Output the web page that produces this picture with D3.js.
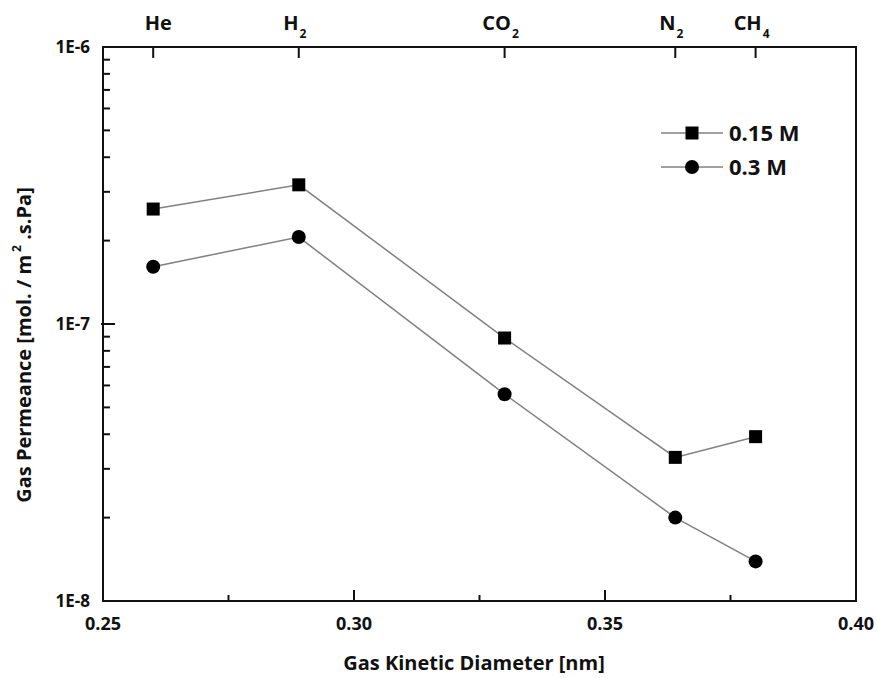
<!DOCTYPE html>
<html>
<head>
<meta charset="utf-8">
<script src="https://cdn.jsdelivr.net/npm/d3@7"></script>
<style>
  body { margin: 0; background: #fff; }
  text { font-family: "Open Sans", "Noto Sans", sans-serif; font-weight: bold; fill: #111; }
</style>
</head>
<body>
<svg id="chart" width="877" height="678"></svg>
<script>
// gases and their kinetic diameters (nm)
var gases = ["He", "H2", "CO2", "N2", "CH4"];
var gasSub = ["", "2", "2", "2", "4"];
var diameters = [0.26, 0.289, 0.33, 0.364, 0.38];

// permeance, mol / m2.s.Pa
var perm015 = [2.6e-7, 3.18e-7, 8.9e-8, 3.3e-8, 3.92e-8];
var perm03 = [1.61e-7, 2.06e-7, 5.58e-8, 2.0e-8, 1.39e-8];

var seriesNames = ["0.15 M", "0.3 M"];
var xTicks = [0.25, 0.30, 0.35, 0.40];
var xMinor = [0.275, 0.325, 0.375];
var yTicks = [1e-8, 1e-7, 1e-6];

var pLeft = 103, pRight = 856, pTop = 47, pBottom = 601;
var svg = d3.select("#chart");

var x = d3.scaleLinear().domain([0.25, 0.40]).range([pLeft, pRight]);
var y = d3.scaleLog().domain([1e-8, 1e-6]).range([pBottom, pTop]);

// frame
svg.append("rect")
    .attr("x", pLeft).attr("y", pTop)
    .attr("width", pRight - pLeft).attr("height", pBottom - pTop)
    .attr("fill", "none").attr("stroke", "#111").attr("stroke-width", 2);

// bottom axis ticks (inward)
svg.selectAll(".xmaj")
    .data(xTicks.slice(1, 3))
    .enter().append("line")
    .attr("x1", function(d){ return x(d); }).attr("x2", function(d){ return x(d); })
    .attr("y1", pBottom).attr("y2", pBottom - 11)
    .attr("stroke", "#111").attr("stroke-width", 2);
svg.selectAll(".xmin")
    .data(xMinor)
    .enter().append("line")
    .attr("x1", function(d){ return x(d); }).attr("x2", function(d){ return x(d); })
    .attr("y1", pBottom).attr("y2", pBottom - 6)
    .attr("stroke", "#111").attr("stroke-width", 2);
svg.selectAll(".xlab")
    .data(xTicks)
    .enter().append("text")
    .attr("x", function(d){ return x(d); })
    .attr("y", 630)
    .attr("text-anchor", "middle")
    .attr("font-size", 18)
    .text(function(d){ return d3.format(".2f")(d); });

// top axis: gases
svg.selectAll(".gtick")
    .data(diameters)
    .enter().append("line")
    .attr("x1", function(d){ return x(d); }).attr("x2", function(d){ return x(d); })
    .attr("y1", pTop).attr("y2", pTop + 11)
    .attr("stroke", "#111").attr("stroke-width", 2);
var gl = svg.selectAll(".glab")
    .data(gases)
    .enter().append("text")
    .attr("x", function(d, i){ return x(diameters[i]) - (gasSub[i] ? 4 : -5); })
    .attr("y", 30)
    .attr("text-anchor", "middle")
    .attr("font-size", 20);
gl.append("tspan").text(function(d){ return d.replace(/[0-9]/g, ""); });
gl.append("tspan")
    .attr("font-size", 12)
    .attr("dy", 8)
    .attr("dx", 1)
    .text(function(d, i){ return gasSub[i]; });

// left axis: log ticks
var minor = [];
[1e-8, 1e-7].forEach(function(dec){
    for (var k = 2; k <= 9; k++) minor.push(dec * k);
});
svg.selectAll(".ymin")
    .data(minor)
    .enter().append("line")
    .attr("x1", pLeft).attr("x2", pLeft + 7)
    .attr("y1", function(d){ return y(d); }).attr("y2", function(d){ return y(d); })
    .attr("stroke", "#111").attr("stroke-width", 2);
svg.selectAll(".ymaj")
    .data([1e-7])
    .enter().append("line")
    .attr("x1", pLeft - 2).attr("x2", pLeft + 12)
    .attr("y1", function(d){ return y(d); }).attr("y2", function(d){ return y(d); })
    .attr("stroke", "#111").attr("stroke-width", 2);
svg.selectAll(".ylab")
    .data(yTicks)
    .enter().append("text")
    .attr("x", 90)
    .attr("y", function(d){ return y(d) + 6; })
    .attr("text-anchor", "end")
    .attr("font-size", 17)
    .text(function(d){ return "1E" + Math.round(Math.log10(d)); });

// axis titles
svg.append("text")
    .attr("x", 474).attr("y", 670)
    .attr("text-anchor", "middle")
    .attr("font-size", 20)
    .text("Gas Kinetic Diameter [nm]");
var yt = svg.append("text")
    .attr("transform", "translate(31,345) rotate(-90)")
    .attr("text-anchor", "middle")
    .attr("font-size", 20);
yt.append("tspan").text("Gas Permeance [mol. / m");
yt.append("tspan").attr("font-size", 12).attr("dy", -10).attr("dx", 3).text("2");
yt.append("tspan").attr("dy", 10).text(" .s.Pa]");

// lines and markers
var line = d3.line()
    .x(function(d){ return x(d[0]); })
    .y(function(d){ return y(d[1]); });
var s1 = d3.zip(diameters, perm015);
var s2 = d3.zip(diameters, perm03);

[s1, s2].forEach(function(s){
    svg.append("path")
        .datum(s)
        .attr("d", line)
        .attr("fill", "none")
        .attr("stroke", "#808080")
        .attr("stroke-width", 1.5);
});

svg.selectAll(".sq")
    .data(s1)
    .enter().append("rect")
    .attr("x", function(d){ return x(d[0]) - 6.5; })
    .attr("y", function(d){ return y(d[1]) - 6.5; })
    .attr("width", 13).attr("height", 13)
    .attr("fill", "#000");
svg.selectAll(".ci")
    .data(s2)
    .enter().append("circle")
    .attr("cx", function(d){ return x(d[0]); })
    .attr("cy", function(d){ return y(d[1]); })
    .attr("r", 7)
    .attr("fill", "#000");

// legend
var legend = svg.append("g").attr("transform", "translate(661,133)");
seriesNames.forEach(function(name, i){
    var g = legend.append("g").attr("transform", "translate(0," + (i * 34) + ")");
    g.append("line").attr("x1", 0).attr("x2", 62).attr("y1", 0).attr("y2", 0)
        .attr("stroke", "#808080").attr("stroke-width", 1.5);
    if (i == 0) {
        g.append("rect").attr("x", 31 - 6.5).attr("y", -6.5)
            .attr("width", 13).attr("height", 13).attr("fill", "#000");
    } else {
        g.append("circle").attr("cx", 31).attr("cy", 0).attr("r", 7).attr("fill", "#000");
    }
    g.append("text").attr("x", 68).attr("y", 8)
        .attr("font-size", 22)
        .text(name);
});
</script>
</body>
</html>
